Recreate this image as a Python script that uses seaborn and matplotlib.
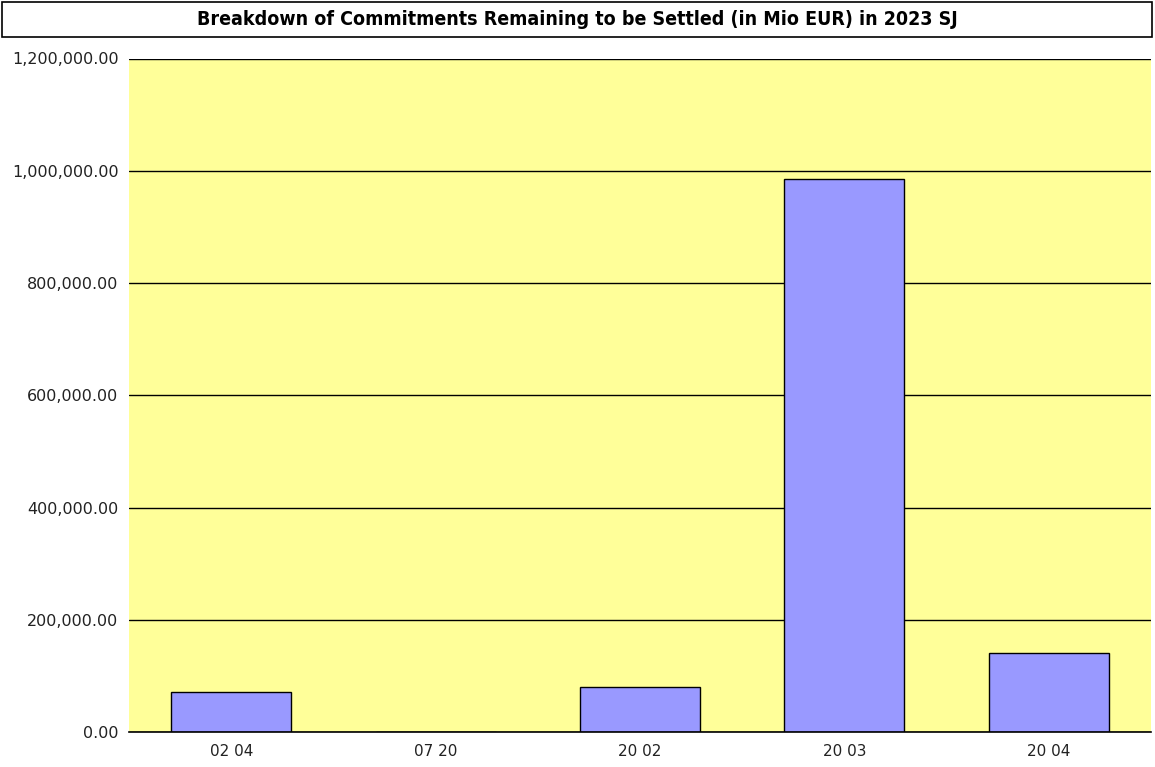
import matplotlib
matplotlib.use("Agg")
import matplotlib.pyplot as plt
import seaborn as sns
import pandas as pd
from matplotlib.ticker import FuncFormatter, MultipleLocator
from matplotlib.patches import Rectangle

# Commitments remaining to be settled, by budget line (Mio EUR)
categories = ["02 04", "07 20", "20 02", "20 03", "20 04"]
values = [71200, 0, 80100, 985300, 140100]
title = "Breakdown of Commitments Remaining to be Settled (in Mio EUR) in 2023 SJ"

df = pd.DataFrame({"line": categories, "amount": values})

sns.set_theme(style="white")
plt.rcParams["font.family"] = ["DejaVu Sans"]

W, H = 1155, 767
fig = plt.figure(figsize=(W / 100, H / 100), dpi=100)
fig.patch.set_facecolor("white")

ax = fig.add_axes([129 / W, 1 - 732 / H, (1151 - 129) / W, (732 - 58.5) / H])
ax.set_facecolor("#FFFF99")

sns.barplot(data=df, x="line", y="amount", order=categories, color="#9999FF",
            saturation=1, width=0.587, edgecolor="black", linewidth=1.0, ax=ax)

ax.set_xlim(-0.5, len(categories) - 0.5)
ax.set_ylim(0, 1_200_000)
ax.yaxis.set_major_locator(MultipleLocator(200_000))
ax.yaxis.set_major_formatter(FuncFormatter(lambda v, p: f"{v:,.2f}"))
ax.grid(axis="y", color="black", linewidth=1.0)
ax.set_axisbelow(True)
ax.set_xlabel("")
ax.set_ylabel("")

for side in ["left", "right", "top"]:
    ax.spines[side].set_visible(False)
ax.spines["bottom"].set_color("black")
ax.spines["bottom"].set_linewidth(1.2)

ax.tick_params(axis="y", labelsize=11.5, length=0, pad=7.5)
ax.tick_params(axis="x", labelsize=11, length=0, pad=9)
for lab in ax.get_xticklabels() + ax.get_yticklabels():
    lab.set_color("#222222")

# Boxed chart title
fig.patches.append(Rectangle((2 / W, 1 - 37 / H), (1152 - 2) / W, 35 / H,
                             transform=fig.transFigure, facecolor="white",
                             edgecolor="black", linewidth=1.2))
fig.text(0.5, 1 - 19.5 / H, title, ha="center", va="center", fontsize=14,
         fontweight="bold", fontstretch="condensed", color="black")

fig.savefig("out.png", dpi=100)
